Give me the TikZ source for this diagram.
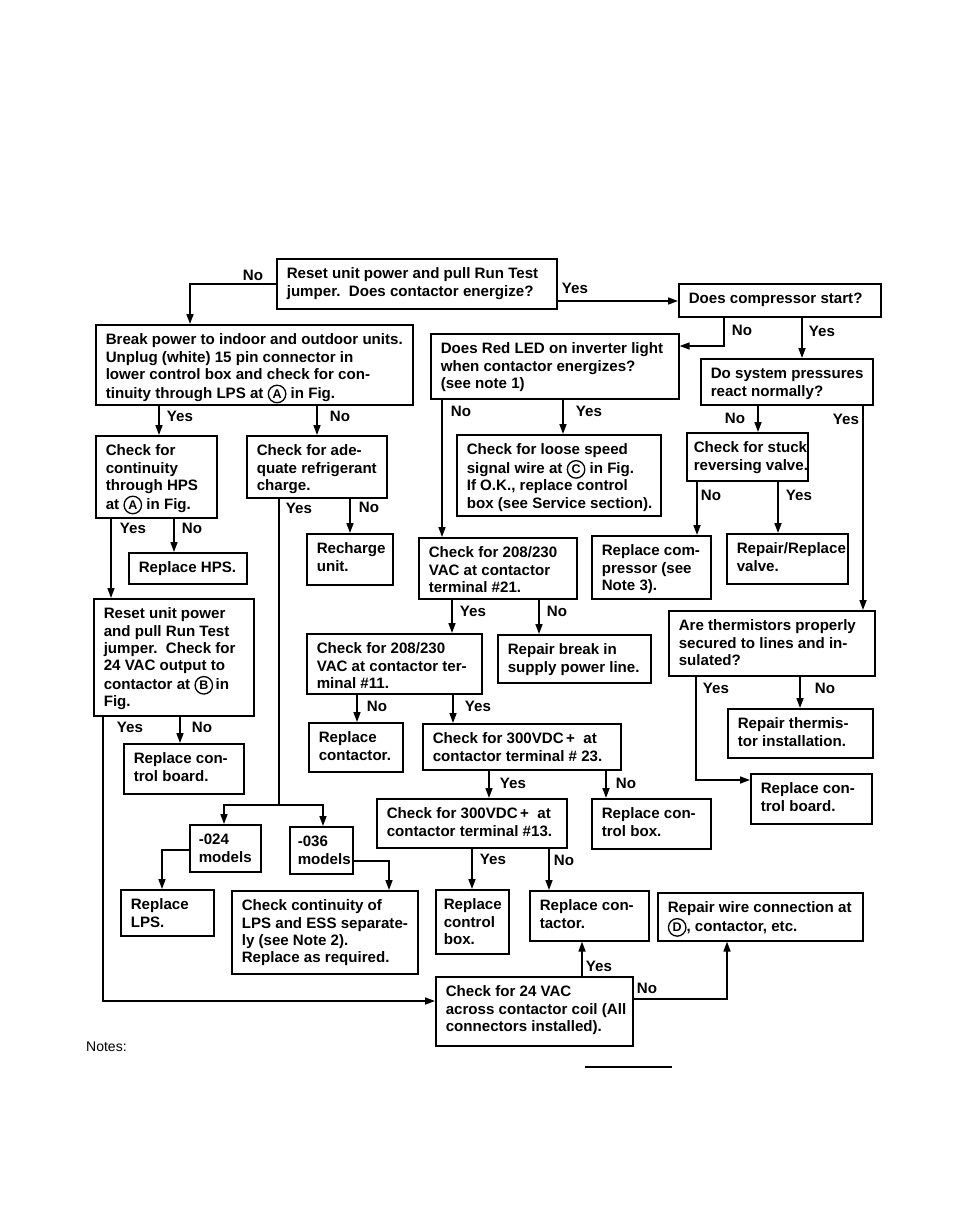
\documentclass[tikz,border=0pt]{standalone}
\usepackage{fontspec}
\setmainfont{Liberation Sans}
\usetikzlibrary{arrows.meta}
\newcommand\cl[1]{\tikz[baseline=(cc.base)]\node[draw, circle, line width=1.3pt, inner sep=0pt, minimum size=17.5pt, font=\bfseries\fontsize{12.5}{12.5}\selectfont] (cc) {#1};}
\newcommand\bx[7][10]{\node[fbox] (#2) at (#3,#4) {\hspace*{#1pt}\parbox[c][\dimexpr#6pt-#4pt\relax][t]{\dimexpr#5pt-#3pt-#1pt\relax}{\rule{0pt}{20pt}\begin{tabular}[t]{@{}l@{}}#7\end{tabular}}};}
\tikzset{
  fbox/.style={draw, line width=1.6pt, anchor=north west, inner sep=0pt, font=\bfseries\fontsize{15.1}{17.3}\selectfont},
  lab/.style={inner sep=0pt, font=\bfseries\fontsize{15.1}{17.3}\selectfont},
  arr/.style={draw, line width=1.6pt, -{Triangle[length=10pt,width=7pt]}},
  plain/.style={draw, line width=1.6pt}
}
\begin{document}
\begin{tikzpicture}[x=1pt,y=-1pt]
\useasboundingbox (0,0) rectangle (954,1225);
% boxes
\bx{b1}{276}{258}{556}{308}{Reset unit power and pull Run Test\\jumper.\ \ Does contactor energize?}
\bx{b3}{678}{283}{880}{316}{Does compressor start?}
\bx{b2}{95}{324}{412}{404}{Break power to indoor and outdoor units.\\Unplug (white) 15 pin connector in\\lower control box and check for con-\\tinuity through LPS at \cl{A} in Fig.}
\bx{b4}{430}{333}{678}{398}{Does Red LED on inverter light\\when contactor energizes?\\(see note 1)}
\bx{b5}{700}{358}{872}{404}{Do system pressures\\react normally?}
\bx{bhps}{95}{435}{216}{517}{Check for\\continuity\\through HPS\\at \cl{A} in Fig.}
\bx{bref}{246}{435}{386}{497}{Check for ade-\\quate refrigerant\\charge.}
\bx{bspd}{456}{434}{660}{515}{Check for loose speed\\signal wire at \cl{C} in Fig.\\If O.K., replace control\\box (see Service section).}
\bx[7]{b6}{686}{432}{807}{480}{Check for stuck\\reversing valve.}
\bx{brech}{306}{533}{392}{584}{Recharge\\unit.}
\bx{b21}{418}{537}{576}{598}{Check for 208/230\\VAC at contactor\\terminal \#21.}
\bx{bcomp}{591}{535}{710}{598}{Replace com-\\pressor (see\\Note 3).}
\bx{bvalve}{726}{533}{847}{583}{Repair/Replace\\valve.}
\bx{bhpsr}{128}{552}{246}{583}{Replace HPS.}
\bx{breset}{93}{598}{253}{715}{Reset unit power\\and pull Run Test\\jumper.\ \ Check for\\24 VAC output to\\contactor at \cl{B}\,in\\Fig.}
\bx{btherm}{668}{610}{874}{675}{Are thermistors properly\\secured to lines and in-\\sulated?}
\bx{b11}{306}{633}{481}{693}{Check for 208/230\\VAC at contactor ter-\\minal \#11.}
\bx{bbreak}{497}{634}{650}{682}{Repair break in\\supply power line.}
\bx{bthfix}{727}{708}{872}{757}{Repair thermis-\\tor installation.}
\bx{bcont1}{308}{722}{402}{771}{Replace\\contactor.}
\bx{b23}{422}{723}{620}{769}{Check for 300VDC\,+ \ at\\contactor terminal \# 23.}
\bx{bcbl}{123}{743}{243}{793}{Replace con-\\trol board.}
\bx{bcbr}{750}{773}{871}{823}{Replace con-\\trol board.}
\bx{b13}{376}{798}{566}{847}{Check for 300VDC\,+ \ at\\contactor terminal \#13.}
\bx{bcbox}{591}{798}{710}{848}{Replace con-\\trol box.}
\bx[9]{m24}{189}{824}{260}{871}{-024\\models}
\bx[8]{m36}{289}{826}{352}{873}{-036\\models}
\bx{blps}{120}{889}{213}{935}{Replace\\LPS.}
\bx{bess}{231}{890}{417}{973}{Check continuity of\\LPS and ESS separate-\\ly (see Note 2).\\Replace as required.}
\bx[8]{bcbox2}{435}{889}{508}{953}{Replace\\control\\box.}
\bx{bcont2}{529}{890}{648}{940}{Replace con-\\tactor.}
\bx{bwire}{657}{892}{862}{940}{Repair wire connection at\\\cl{D}, contactor, etc.}
\bx{b24}{435}{976}{632}{1045}{Check for 24 VAC\\across contactor coil (All\\connectors installed).}
% connectors
\draw[arr] (b1.west) -| (b2.north -| 190,0);
\draw[arr] (b1.east |- 0,301) -- (b3.west |- 0,301);
\draw[arr] (b3.south -| 724,0) |- (b4.east |- 0,346);
\draw[arr] (b3.south -| 802,0) -- (b5.north -| 802,0);
\draw[arr] (b5.south -| 758,0) -- (b6.north -| 758,0);
\draw[arr] (b5.south -| 863,0) -- (btherm.north -| 863,0);
\draw[arr] (b6.south -| 697,0) -- (bcomp.north -| 697,0);
\draw[arr] (b6.south -| 778,0) -- (bvalve.north -| 778,0);
\draw[arr] (b4.south -| 442,0) -- (b21.north -| 442,0);
\draw[arr] (b4.south -| 563,0) -- (bspd.north -| 563,0);
\draw[arr] (b2.south -| 159,0) -- (bhps.north -| 159,0);
\draw[arr] (b2.south -| 317,0) -- (bref.north -| 317,0);
\coordinate (split) at (279,805);
\draw[plain] (bref.south -| split) -- (split);
\draw[arr] (split) -| (m24.north -| 224,0);
\draw[arr] (split) -| (m36.north -| 323,0);
\draw[arr] (bref.south -| 350,0) -- (brech.north -| 350,0);
\draw[arr] (bhps.south -| 111,0) -- (breset.north -| 111,0);
\draw[arr] (bhps.south -| 174,0) -- (bhpsr.north -| 174,0);
\draw[arr] (breset.south -| 103,0) |- (b24.west |- 0,1001);
\draw[arr] (breset.south -| 180,0) -- (bcbl.north -| 180,0);
\draw[arr] (b21.south -| 452,0) -- (b11.north -| 452,0);
\draw[arr] (b21.south -| 539,0) -- (bbreak.north -| 539,0);
\draw[arr] (b11.south -| 357,0) -- (bcont1.north -| 357,0);
\draw[arr] (b11.south -| 453,0) -- (b23.north -| 453,0);
\draw[arr] (b23.south -| 489,0) -- (b13.north -| 489,0);
\draw[arr] (b23.south -| 606,0) -- (bcbox.north -| 606,0);
\draw[arr] (b13.south -| 472,0) -- (bcbox2.north -| 472,0);
\draw[arr] (b13.south -| 549,0) -- (bcont2.north -| 549,0);
\draw[arr] (b24.north -| 582,0) -- (bcont2.south -| 582,0);
\draw[arr] (b24.east |- 0,999) -| (bwire.south -| 727,0);
\draw[arr] (btherm.south -| 696,0) |- (bcbr.west |- 0,780);
\draw[arr] (btherm.south -| 800,0) -- (bthfix.north -| 800,0);
\draw[arr] (m24.west |- 0,850) -| (blps.north -| 162,0);
\draw[arr] (m36.east |- 0,861) -| (bess.north -| 389,0);
% labels
\node[lab] (l1) at (253,275) {No};
\node[lab] (l2) at (575,288) {Yes};
\node[lab] (l3) at (742,330) {No};
\node[lab] (l4) at (822,331) {Yes};
\node[lab] (l5) at (180,416) {Yes};
\node[lab] (l6) at (340,416) {No};
\node[lab] (l7) at (461,411) {No};
\node[lab] (l8) at (589,411) {Yes};
\node[lab] (l9) at (735,418) {No};
\node[lab] (l10) at (846,419) {Yes};
\node[lab] (l11) at (299,508) {Yes};
\node[lab] (l12) at (369,507) {No};
\node[lab] (l13) at (711,495) {No};
\node[lab] (l14) at (799,495) {Yes};
\node[lab] (l15) at (133,528) {Yes};
\node[lab] (l16) at (192,528) {No};
\node[lab] (l17) at (473,611) {Yes};
\node[lab] (l18) at (557,611) {No};
\node[lab] (l19) at (716,688) {Yes};
\node[lab] (l20) at (825,688) {No};
\node[lab] (l21) at (377,706) {No};
\node[lab] (l22) at (478,706) {Yes};
\node[lab] (l23) at (130,727) {Yes};
\node[lab] (l24) at (202,727) {No};
\node[lab] (l25) at (513,783) {Yes};
\node[lab] (l26) at (626,783) {No};
\node[lab] (l27) at (493,859) {Yes};
\node[lab] (l28) at (564,860) {No};
\node[lab] (l29) at (599,966) {Yes};
\node[lab] (l30) at (647,988) {No};
% notes
\node[anchor=base west, inner sep=0pt, font=\fontsize{14}{16}\selectfont] (notes) at (86,1051) {Notes:};
\coordinate (ul1) at (585,1067);
\coordinate (ul2) at (672,1067);
\draw[line width=1.2pt] (ul1) -- (ul2);
\end{tikzpicture}
\end{document}
